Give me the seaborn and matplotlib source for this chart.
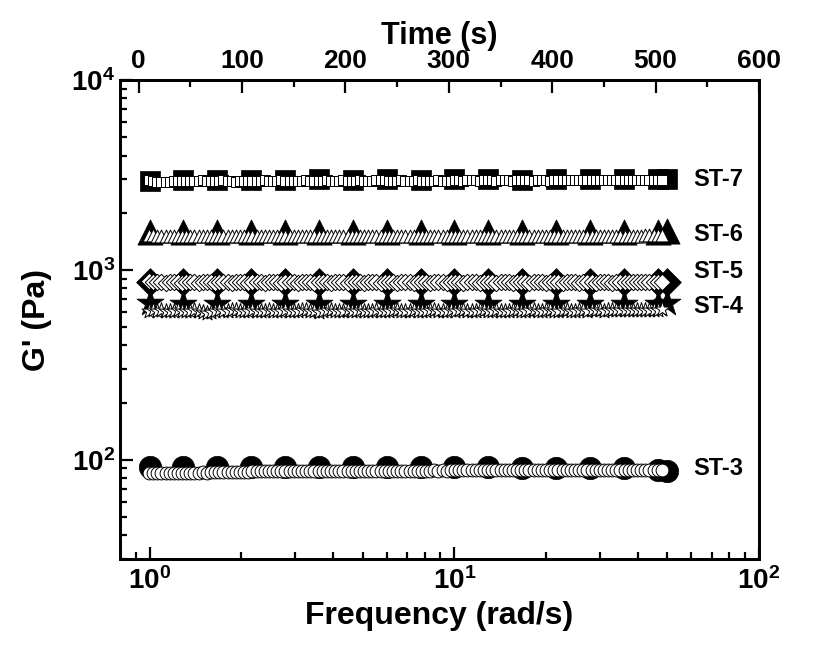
import numpy as np
import matplotlib
matplotlib.use('Agg')
import matplotlib.pyplot as plt
import seaborn as sns
from matplotlib.ticker import FixedLocator, MultipleLocator, NullFormatter

# frequency sweep (filled symbols, bottom axis)
freq = [1.0, 1.29, 1.67, 2.16, 2.79, 3.6, 4.65, 6.01, 7.76, 10.0,
        12.9, 16.7, 21.6, 27.9, 36.0, 46.5, 50.0]
st7_freq = [2950, 2980, 2990, 2990, 2980, 3000, 2990, 3000, 2990, 3000,
            3000, 2990, 3000, 3000, 3000, 3010, 3010]
st6_freq = [1590, 1590, 1590, 1590, 1590, 1590, 1590, 1590, 1590, 1590,
            1590, 1590, 1590, 1590, 1590, 1590, 1600]
st5_freq = [860, 860, 860, 860, 860, 860, 860, 860, 860, 860,
            860, 860, 860, 860, 860, 860, 865]
st4_freq = [670, 665, 665, 665, 660, 665, 665, 665, 660, 665,
            665, 660, 665, 665, 665, 665, 670]
st3_freq = [92, 91, 91, 91, 91, 91, 91, 91, 91, 91,
            91, 90, 90, 90, 90, 88, 87]

# time sweep (open symbols, top axis), one sample every 4 s
time_s = np.arange(10, 510, 4)
st7_time = [2960, 2940, 2900, 2890, 2900, 2920, 2930, 2940, 2930, 2940, 2950, 2940, 2950, 2960, 2940, 2930, 2950, 2950, 2960, 2940, 2930, 2920, 2930, 2940, 2950,
            2950, 2940, 2950, 2960, 2950, 2940, 2950, 2960, 2950, 2940, 2930, 2940, 2950, 2960, 2950, 2950, 2940, 2950, 2960, 2950, 2940, 2950, 2960, 2950, 2940,
            2950, 2960, 2950, 2940, 2950, 2960, 2970, 2960, 2950, 2940, 2950, 2960, 2950, 2940, 2950, 2960, 2950, 2950, 2940, 2950, 2960, 2950, 2940, 2950, 2960,
            2960, 2950, 2960, 2970, 2960, 2950, 2960, 2970, 2960, 2950, 2960, 2970, 2960, 2950, 2960, 2970, 2960, 2960, 2950, 2960, 2970, 2960, 2950, 2960, 2970,
            2970, 2960, 2970, 2980, 2970, 2960, 2970, 2980, 2970, 2960, 2970, 2980, 2970, 2960, 2970, 2980, 2970, 2970, 2960, 2970, 2980, 2980, 2990, 2990, 2990]
st6_time = [1530, 1520, 1515, 1510, 1510, 1515, 1510, 1505, 1510, 1515, 1510, 1510, 1515, 1510, 1505, 1510, 1515, 1510, 1510, 1515, 1510, 1505, 1510, 1515, 1510,
            1510, 1515, 1510, 1505, 1510, 1515, 1510, 1510, 1515, 1510, 1505, 1510, 1515, 1510, 1510, 1515, 1510, 1505, 1510, 1515, 1510, 1510, 1515, 1510, 1505,
            1510, 1515, 1510, 1510, 1515, 1510, 1505, 1510, 1515, 1510, 1510, 1515, 1510, 1505, 1510, 1515, 1510, 1510, 1515, 1510, 1505, 1510, 1515, 1510, 1510,
            1515, 1510, 1505, 1510, 1515, 1510, 1510, 1515, 1510, 1505, 1510, 1515, 1510, 1510, 1515, 1510, 1505, 1510, 1515, 1510, 1510, 1515, 1510, 1505, 1510,
            1515, 1510, 1510, 1515, 1510, 1505, 1510, 1515, 1510, 1510, 1515, 1510, 1505, 1510, 1515, 1510, 1510, 1515, 1510, 1515, 1520, 1520, 1525, 1525, 1530]
st5_time = [870, 865, 860, 858, 856, 858, 860, 858, 856, 858, 860, 858, 856, 858, 860, 858, 856, 858, 860, 858, 856, 858, 860, 858, 856,
            858, 860, 858, 856, 858, 860, 858, 856, 858, 860, 858, 856, 858, 860, 858, 856, 858, 860, 858, 856, 858, 860, 858, 856, 858,
            860, 858, 856, 858, 860, 858, 856, 858, 860, 858, 856, 858, 860, 858, 856, 858, 860, 858, 856, 858, 860, 858, 856, 858, 860,
            858, 856, 858, 860, 858, 856, 858, 860, 858, 856, 858, 860, 858, 856, 858, 860, 858, 856, 858, 860, 858, 856, 858, 860, 858,
            856, 858, 860, 858, 856, 858, 860, 858, 856, 858, 860, 858, 856, 858, 860, 858, 860, 862, 864, 865, 866, 866, 866, 866, 866]
st4_time = [610, 612, 608, 612, 610, 606, 610, 614, 610, 606, 608, 612, 604, 598, 592, 598, 606, 612, 610, 608, 612, 614, 610, 606, 610,
            612, 608, 606, 610, 614, 610, 604, 608, 612, 610, 606, 610, 614, 612, 608, 604, 600, 606, 612, 614, 610, 606, 610, 612, 608,
            610, 614, 610, 606, 608, 612, 610, 606, 610, 614, 612, 608, 606, 610, 614, 610, 606, 608, 612, 614, 610, 606, 608, 612, 610,
            612, 614, 610, 606, 610, 614, 612, 608, 610, 614, 610, 606, 610, 614, 612, 608, 610, 614, 612, 608, 610, 614, 612, 608, 610,
            614, 612, 608, 610, 614, 612, 610, 614, 616, 612, 610, 614, 616, 612, 614, 616, 614, 612, 616, 618, 616, 614, 616, 618, 620]
st3_time = [85.5, 85.3, 85.2, 85.3, 85.4, 85.3, 85.4, 85.5, 85.4, 85.5, 85.6, 85.5, 85.6, 85.7, 85.6, 85.7, 85.8, 85.7, 85.8, 85.9, 85.8, 85.9, 86.0, 86.1, 86.6,
            86.8, 86.7, 86.8, 86.9, 86.8, 86.9, 87.0, 86.9, 87.0, 87.1, 87.0, 87.1, 87.0, 87.1, 87.2, 87.1, 87.2, 87.1, 87.2, 87.3, 87.2, 87.3, 87.2, 87.3, 87.4,
            87.3, 87.4, 87.3, 87.4, 87.5, 87.4, 87.5, 87.4, 87.5, 87.6, 87.5, 87.6, 87.5, 87.6, 87.7, 87.6, 87.7, 87.6, 87.7, 87.8, 87.7, 87.8, 87.7, 87.8, 87.9,
            87.8, 87.9, 87.8, 87.9, 88.0, 87.9, 88.0, 87.9, 88.0, 88.0, 87.9, 88.0, 87.9, 88.0, 88.1, 88.0, 88.1, 88.0, 88.1, 88.1, 88.0, 88.1, 88.0, 88.1, 88.2,
            88.1, 88.2, 88.1, 88.2, 88.2, 88.1, 88.2, 88.1, 88.2, 88.3, 88.2, 88.3, 88.2, 88.3, 88.3, 88.2, 88.3, 88.2, 88.3, 88.4, 88.3, 88.4, 88.3, 88.4, 88.4]

labels = ['ST-7', 'ST-6', 'ST-5', 'ST-4', 'ST-3']
label_y = [2980, 1527, 975, 638, 90]

sns.set_style('ticks')
plt.rcParams['font.family'] = ['Liberation Sans', 'DejaVu Sans']
plt.rcParams['font.weight'] = 'bold'
plt.rcParams['text.color'] = 'black'
plt.rcParams['axes.labelcolor'] = 'black'
plt.rcParams['xtick.color'] = 'black'
plt.rcParams['ytick.color'] = 'black'
plt.rcParams['axes.edgecolor'] = 'black'
plt.rcParams['mathtext.fontset'] = 'custom'
plt.rcParams['mathtext.bf'] = 'Liberation Sans:bold'
plt.rcParams['mathtext.rm'] = 'Liberation Sans:bold'

fig = plt.figure(figsize=(8.4, 6.56), dpi=100)
ax = fig.add_axes([0.1429, 0.1479, 0.7607, 0.7301])
ax.set_xscale('log')
ax.set_yscale('log')

# filled symbols vs frequency
fill = dict(color='black', edgecolor='black', linewidth=0.5, ax=ax, legend=False, zorder=3)
sns.scatterplot(x=freq, y=st7_freq, marker='s', s=200, **fill)
sns.scatterplot(x=freq, y=st6_freq, marker='^', s=330, **fill)
sns.scatterplot(x=freq, y=st5_freq, marker='D', s=200, **fill)
sns.scatterplot(x=freq, y=st4_freq, marker='*', s=420, **fill)
sns.scatterplot(x=freq, y=st3_freq, marker='o', s=260, **fill)

ax.set_xlim(0.8, 100)
ax.set_ylim(30, 1e4)

# open symbols vs time on the top axis
ax2 = ax.twiny()
opn = dict(color='white', edgecolor='black', linewidth=0.7, ax=ax2, legend=False, zorder=4)
sns.scatterplot(x=time_s, y=st7_time, marker='s', s=60, **opn)
sns.scatterplot(x=time_s, y=st6_time, marker='^', s=85, **opn)
sns.scatterplot(x=time_s, y=st5_time, marker='D', s=70, **opn)
sns.scatterplot(x=time_s, y=st4_time, marker='*', s=130, **opn)
sns.scatterplot(x=time_s, y=st3_time, marker='o', s=85, **opn)
ax2.set_xlim(-18, 600)

for lab, yv in zip(labels, label_y):
    ax.text(61, yv, lab, fontsize=17, fontweight='bold', va='center', ha='left')

ax.set_xticks([1, 10, 100])
ax.set_xticklabels([r'$\mathbf{10^{0}}$', r'$\mathbf{10^{1}}$', r'$\mathbf{10^{2}}$'])
ax.xaxis.set_minor_locator(FixedLocator([0.9] + [m * 10**e for e in (0, 1) for m in range(2, 10)]))
ax.xaxis.set_minor_formatter(NullFormatter())
ax.set_yticks([100, 1000, 10000])
ax.set_yticklabels([r'$\mathbf{10^{2}}$', r'$\mathbf{10^{3}}$', r'$\mathbf{10^{4}}$'])
ax.yaxis.set_minor_locator(FixedLocator([m * 10**e for e in (1, 2, 3) for m in range(2, 10)]))
ax.yaxis.set_minor_formatter(NullFormatter())

ax.tick_params(which='both', direction='in', top=False, right=False, width=1.6, labelsize=20)
ax.tick_params(which='major', length=9)
ax.tick_params(which='minor', length=5)
ax.tick_params(axis='x', pad=6)
ax2.set_xticks([0, 100, 200, 300, 400, 500, 600])
ax2.xaxis.set_minor_locator(MultipleLocator(50))
ax2.tick_params(which='both', direction='in', width=1.6, labelsize=19, pad=5)
ax2.tick_params(which='major', length=9)
ax2.tick_params(which='minor', length=5)
ax2.tick_params(axis='y', which='both', right=False, left=False)

for a in (ax, ax2):
    for sp in a.spines.values():
        sp.set_linewidth(2)
        sp.set_visible(True)

ax.set_xlabel('Frequency (rad/s)', fontsize=23, fontweight='bold', labelpad=4)
ax.set_ylabel("G' (Pa)", fontsize=23, fontweight='bold', labelpad=14)
ax2.set_xlabel('Time (s)', fontsize=22, fontweight='bold', labelpad=4)

fig.savefig('out.png', dpi=100)
